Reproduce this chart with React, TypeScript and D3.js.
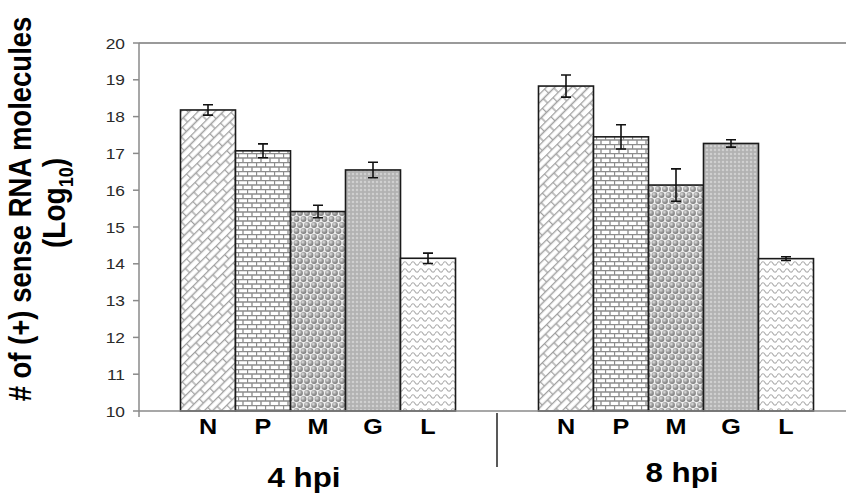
import React from "react";
import * as d3 from "d3";

// values (log10 copies), +/- error
const groups = ["4 hpi", "8 hpi"];
const genes = ["N", "P", "M", "G", "L"];
const means4 = [18.18, 17.07, 15.42, 16.55, 14.15];
const err4 = [0.14, 0.19, 0.17, 0.21, 0.14];
const means8 = [18.83, 17.45, 16.14, 17.27, 14.14];
const err8 = [0.3, 0.33, 0.44, 0.1, 0.05];
const yDomain = [10, 20];

const W = 846, H = 497;
const FONT = "'Liberation Sans', Arial, Helvetica, sans-serif";
const SX = 1.12; // the figure is a little wider than tall

const left = 139, top = 43, bottom = 411, right = 855;

const fills = ["url(#patN)", "url(#patP)", "url(#patM)", "url(#patG)", "url(#patL)"];

export default function App() {
  const y = d3.scaleLinear().domain(yDomain).range([bottom, top]);
  const x0 = d3.scaleBand().domain(groups).range([left, right]);
  const x1 = d3.scaleBand().domain(genes).range([0, x0.bandwidth()]).paddingInner(0).paddingOuter(0.7545);

  const series = [
    { g: groups[0], m: means4, e: err4 },
    { g: groups[1], m: means8, e: err8 },
  ];
  const labelDx = [-14, 6];
  const labelY = [487, 482];

  return (
    <svg width={W} height={H} style={{ position: "absolute", left: 0, top: 0, background: "#fff" }}>
      <defs>
        {/* diagonal brick */}
        <pattern id="patN" width="15" height="12" patternUnits="userSpaceOnUse" patternTransform="rotate(-45)">
          <rect width="15" height="12" fill="#fff" />
          <path d="M0,0.5H15M0,6.5H15M0.5,0.5V6.5M8,6.5V12" stroke="#a0a0a0" strokeWidth="1.3" fill="none" />
        </pattern>
        {/* horizontal brick */}
        <pattern id="patP" width="9" height="9" patternUnits="userSpaceOnUse">
          <rect width="9" height="9" fill="#fff" />
          <path d="M0,0.5H9M0,5H9M0.5,0.5V5M5,5V9.5" stroke="#8c8c8c" strokeWidth="1.3" fill="none" />
        </pattern>
        {/* spheres */}
        <radialGradient id="ball" cx="0.38" cy="0.35" r="0.7">
          <stop offset="0" stopColor="#e0e0e0" />
          <stop offset="0.55" stopColor="#9a9a9a" />
          <stop offset="1" stopColor="#777" />
        </radialGradient>
        <pattern id="patM" width="7" height="12" patternUnits="userSpaceOnUse">
          <rect width="7" height="12" fill="#f0f0f0" />
          <circle cx="3.5" cy="3" r="2.9" fill="url(#ball)" />
          <circle cx="0" cy="9" r="2.9" fill="url(#ball)" />
          <circle cx="7" cy="9" r="2.9" fill="url(#ball)" />
        </pattern>
        {/* dense grey dots */}
        <pattern id="patG" width="4" height="4" patternUnits="userSpaceOnUse">
          <rect width="4" height="4" fill="#b2b2b2" />
          <path d="M2,0.8V3.2M0.8,2H3.2" stroke="#dcdcdc" strokeWidth="0.9" />
        </pattern>
        {/* waves */}
        <pattern id="patL" width="8" height="7" patternUnits="userSpaceOnUse">
          <rect width="8" height="7" fill="#fff" />
          <path d="M0,4.5 Q2,1 4,4.5 T8,4.5" stroke="#adadad" strokeWidth="1.2" fill="none" />
        </pattern>
      </defs>

      {/* frame */}
      <line x1={left} x2={W} y1={top} y2={top} stroke="#9a9a9a" strokeWidth={2} />
      <line x1={left} x2={left} y1={top} y2={bottom} stroke="#8a8a8a" strokeWidth={1.5} />

      {y.ticks(10).map((t) => (
        <g key={t}>
          <line x1={left - 6} x2={left} y1={y(t)} y2={y(t)} stroke="#8a8a8a" strokeWidth={1.5} />
          <text transform={`translate(${left - 14},${y(t)}) scale(${SX},1)`} dy="0.36em" textAnchor="end"
            fontFamily={FONT} fontSize={15.5} fill="#2a2a2a">{t}</text>
        </g>
      ))}

      {series.map((s, gi) => (
        <g key={s.g} transform={`translate(${x0(s.g)},0)`}>
          {genes.map((gene, i) => {
            const bx = x1(gene)!;
            const bw = x1.bandwidth();
            const cx = bx + bw / 2;
            return (
              <g key={gene}>
                <rect x={bx} y={y(s.m[i])} width={bw} height={bottom - y(s.m[i])}
                  fill={fills[i]} stroke="#1a1a1a" strokeWidth={1.6} />
                <path d={`M${cx},${y(s.m[i] + s.e[i])}V${y(s.m[i] - s.e[i])}M${cx - 5},${y(s.m[i] + s.e[i])}H${cx + 5}M${cx - 5},${y(s.m[i] - s.e[i])}H${cx + 5}`}
                  stroke="#111" strokeWidth={1.6} fill="none" />
                <text transform={`translate(${cx},433.5) scale(${SX},1)`} textAnchor="middle"
                  fontFamily={FONT} fontWeight="bold" fontSize={22.5} fill="#000">{gene}</text>
              </g>
            );
          })}
          <text transform={`translate(${x0.bandwidth() / 2 + labelDx[gi]},${labelY[gi]}) scale(${SX},1)`} textAnchor="middle"
            fontFamily={FONT} fontWeight="bold" fontSize={28} fill="#000">{s.g}</text>
        </g>
      ))}

      {/* bottom axis and group divider */}
      <line x1={left} x2={W} y1={bottom} y2={bottom} stroke="#8a8a8a" strokeWidth={1.5} />
      <line x1={left} x2={left} y1={bottom} y2={bottom + 6} stroke="#8a8a8a" strokeWidth={1.5} />
      <line x1={x0(groups[1])} x2={x0(groups[1])} y1={bottom + 2} y2={467} stroke="#222" strokeWidth={1.5} />

      {/* y title */}
      <text transform={`translate(31,209) rotate(-90) scale(1,${SX})`} textAnchor="middle"
        fontFamily={FONT} fontWeight="bold" fontSize={27.5} fill="#000"># of (+) sense RNA molecules</text>
      <text transform={`translate(65,203) rotate(-90) scale(1,${SX})`} textAnchor="middle"
        fontFamily={FONT} fontWeight="bold" fontSize={28} fill="#000">
        (Log<tspan fontSize={18} dy={7}>10</tspan><tspan dy={-7}>)</tspan>
      </text>
    </svg>
  );
}
